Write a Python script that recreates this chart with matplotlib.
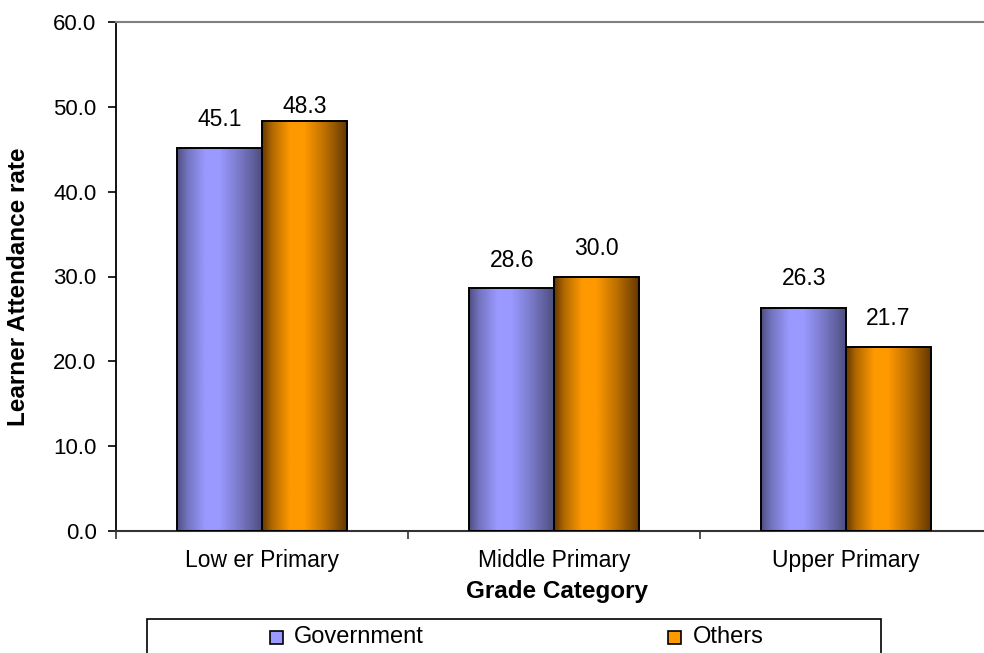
import numpy as np
import matplotlib
matplotlib.use("Agg")
import matplotlib.pyplot as plt
from matplotlib.patches import Rectangle

plt.rcParams['font.family'] = ['Liberation Sans', 'DejaVu Sans']

categories = ["Low er Primary", "Middle Primary", "Upper Primary"]
series_names = ["Government", "Others"]
government = [45.1, 28.6, 26.3]
others = [48.3, 30.0, 21.7]
y_ticks = [0, 10, 20, 30, 40, 50, 60]

# label offsets (pixels above bar top)
label_offsets = [[29, 28, 29], [15, 28, 28]]

W, H = 984, 653
fig = plt.figure(figsize=(W / 100, H / 100), dpi=100)
ax = fig.add_axes([116 / W, (H - 531) / H, 876 / W, 509 / H])

light_cols = [np.array([153, 153, 255]) / 255, np.array([255, 153, 0]) / 255]
dark_cols = [np.array([78, 78, 128]) / 255, np.array([100, 56, 0]) / 255]
flat_cols = ['#9999FF', '#FF9900']

t = np.linspace(0, 1, 256)
wgt = np.interp(t, [0, 0.12, 0.33, 0.5, 0.75, 1], [0, 0.5, 1, 1, 0.55, 0])

x = np.arange(len(categories))
bw = 0.29
for si, vals in enumerate([government, others]):
    pos = x - bw / 2 if si == 0 else x + bw / 2
    bars = ax.bar(pos, vals, bw, facecolor='none', edgecolor='black',
                  linewidth=1.4, zorder=3)
    grad = dark_cols[si][None, :] + (light_cols[si] - dark_cols[si])[None, :] * wgt[:, None]
    for bi, p in enumerate(bars.patches):
        x0, w0, h0 = p.get_x(), p.get_width(), p.get_height()
        im = ax.imshow(grad[None, :, :], extent=[x0, x0 + w0, 0, h0],
                       aspect='auto', zorder=2, interpolation='bilinear')
        im.set_clip_path(p)
        ax.annotate(f"{vals[bi]:.1f}", (x0 + w0 / 2, h0),
                    xytext=(0, label_offsets[si][bi]), textcoords='offset pixels',
                    ha='center', va='center', fontsize=16.5, color='black')

ax.set_xlim(-0.5, 2.5)
ax.set_ylim(0, 60)
ax.set_yticks(y_ticks)
ax.set_yticklabels([f"{v:.1f}" for v in y_ticks])
ax.tick_params(axis='y', direction='out', length=6, width=1.2, labelsize=16, pad=8)

ax.set_xticks(np.arange(-0.5, 3, 1.0))
ax.set_xticklabels([])
ax.set_xticks(x, minor=True)
ax.set_xticklabels(categories, minor=True)
ax.tick_params(axis='x', which='major', direction='out', length=6, width=1.2, color='#333333')
ax.tick_params(axis='x', which='minor', length=0, labelsize=16.5, pad=13)

ax.spines['left'].set_color('black')
ax.spines['left'].set_linewidth(1.3)
ax.spines['bottom'].set_color('#333333')
ax.spines['bottom'].set_linewidth(1.5)
ax.spines['top'].set_color('#808080')
ax.spines['top'].set_linewidth(1.5)
ax.spines['right'].set_color('#808080')

fig.text(19 / W, (H - 287) / H, "Learner Attendance rate", rotation=90,
         ha='center', va='center', fontsize=17.5, fontweight='bold')
fig.text(557 / W, (H - 598) / H, "Grade Category", ha='center', va='baseline',
         fontsize=17.5, fontweight='bold')

# legend box
fig.patches.append(Rectangle((147 / W, -0.05), (881 - 147) / W, (H - 619) / H + 0.05,
                             transform=fig.transFigure, facecolor='white',
                             edgecolor='black', linewidth=1.2))
leg_marker_x = [270, 668]
leg_text_x = [294, 693]
for si, name in enumerate(series_names):
    fig.patches.append(Rectangle((leg_marker_x[si] / W, (H - 644) / H), 13 / W, 13 / H,
                                 transform=fig.transFigure, facecolor=flat_cols[si],
                                 edgecolor='black', linewidth=1.2))
    fig.text(leg_text_x[si] / W, (H - 637) / H, name, ha='left', va='center',
             fontsize=17)

fig.savefig("out.png", dpi=100)
